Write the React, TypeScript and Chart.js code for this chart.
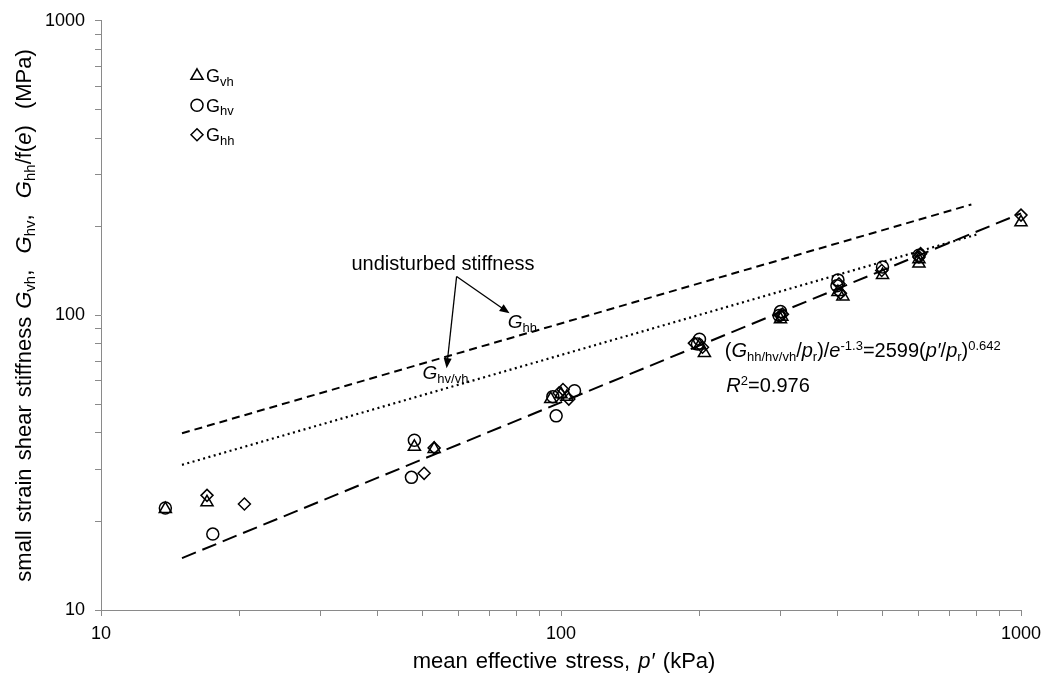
import React, { useEffect, useRef } from "react";
import { Chart, registerables } from "chart.js";

Chart.register(...registerables);

// ---- data ----
const majorTicks = [10, 100, 1000];
const minorTicks = [10, 20, 30, 40, 50, 60, 70, 80, 90, 100, 200, 300, 400, 500, 600, 700, 800, 900, 1000];

const gvhP = [13.8, 17, 48, 53, 95, 100, 103, 200, 205, 300, 302, 400, 410, 500, 600, 600, 1000];
const gvhG = [22.0, 23.2, 35.8, 35.2, 52, 54, 53, 79, 74.5, 97, 99, 120, 116, 137, 150, 155, 207];

const ghvP = [13.8, 17.5, 48, 47.3, 96, 97.6, 107, 200, 198, 300, 298, 400, 398, 500, 600];
const ghvG = [22.2, 18.1, 37.7, 28.2, 53, 45.6, 55.5, 83, 80, 103, 100, 132, 126, 146, 160];

const ghhP = [17, 20.5, 50.4, 53, 99, 101, 104, 195, 203, 300, 303, 402, 405, 498, 600, 605, 1000];
const ghhG = [24.5, 22.9, 29.1, 35.5, 54.5, 56, 52, 80.5, 78, 100, 101, 128, 119, 142, 158, 162, 219];

const fitP = [15, 1000];
const fitG = [15, 222];
const undistHhP = [15, 780];
const undistHhG = [39.8, 238];
const undistHvP = [15, 800];
const undistHvG = [31.1, 188];

// annotation anchors (data space)
const noteAnchor = { x: 55.4, y: 143 };
const arrowFrom = { x: 59.3, y: 135.5 };
const arrowToHh = { x: 77.3, y: 101.6 };
const arrowToHv = { x: 56.4, y: 66.2 };
const labelHh = { x: 76.6, y: 90.4 };
const labelHv = { x: 50.0, y: 60.8 };
const eqAnchor = { x: 227, y: 72.1 };
const r2Anchor = { x: 228.8, y: 54.9 };

const FONT = '"Liberation Sans", Arial, sans-serif';
const AXIS_GREY = "#8a8a8a";

type Seg = { t: string; it?: boolean; sub?: boolean; sup?: boolean };

function segFont(s: Seg, size: number, subRatio: number) {
  const sz = s.sub || s.sup ? Math.round(size * subRatio) : size;
  return `${s.it ? "italic " : ""}${sz}px ${FONT}`;
}

function drawRich(
  ctx: CanvasRenderingContext2D,
  segs: Seg[],
  x: number,
  y: number,
  size: number,
  align: "left" | "center",
  wordSpacing = 0,
  subRatio = 0.66
) {
  const c: any = ctx;
  c.wordSpacing = `${wordSpacing}px`;
  let w = 0;
  for (const s of segs) {
    ctx.font = segFont(s, size, subRatio);
    w += ctx.measureText(s.t).width;
  }
  let cx = align === "center" ? x - w / 2 : x;
  ctx.textAlign = "left";
  ctx.textBaseline = "alphabetic";
  for (const s of segs) {
    ctx.font = segFont(s, size, subRatio);
    const dy = s.sub ? size * 0.2 : s.sup ? -size * 0.38 : 0;
    ctx.fillText(s.t, cx, y + dy);
    cx += ctx.measureText(s.t).width;
  }
  c.wordSpacing = "0px";
}

function marker(ctx: CanvasRenderingContext2D, kind: string, x: number, y: number) {
  ctx.beginPath();
  if (kind === "triangle") {
    const r = 7;
    ctx.moveTo(x, y - r);
    ctx.lineTo(x + r * Math.sin((2 * Math.PI) / 3), y - r * Math.cos((2 * Math.PI) / 3));
    ctx.lineTo(x - r * Math.sin((2 * Math.PI) / 3), y - r * Math.cos((2 * Math.PI) / 3));
    ctx.closePath();
  } else if (kind === "circle") {
    ctx.arc(x, y, 6, 0, Math.PI * 2);
  } else {
    const r = 6;
    ctx.moveTo(x, y - r);
    ctx.lineTo(x + r, y);
    ctx.lineTo(x, y + r);
    ctx.lineTo(x - r, y);
    ctx.closePath();
  }
  ctx.stroke();
}

function arrow(ctx: CanvasRenderingContext2D, x1: number, y1: number, x2: number, y2: number) {
  const ang = Math.atan2(y2 - y1, x2 - x1);
  const hl = 10;
  const hw = 4;
  ctx.beginPath();
  ctx.moveTo(x1, y1);
  ctx.lineTo(x2 - Math.cos(ang) * hl * 0.8, y2 - Math.sin(ang) * hl * 0.8);
  ctx.stroke();
  ctx.beginPath();
  ctx.moveTo(x2, y2);
  ctx.lineTo(x2 - Math.cos(ang) * hl - Math.sin(ang) * hw, y2 - Math.sin(ang) * hl + Math.cos(ang) * hw);
  ctx.lineTo(x2 - Math.cos(ang) * hl + Math.sin(ang) * hw, y2 - Math.sin(ang) * hl - Math.cos(ang) * hw);
  ctx.closePath();
  ctx.fill();
}

const pts = (xs: number[], ys: number[]) => xs.map((x, i) => ({ x, y: ys[i] }));

const overlayPlugin = {
  id: "overlay",
  afterDraw(chart: any) {
    const ctx: CanvasRenderingContext2D = chart.ctx;
    const xs = chart.scales.x;
    const ys = chart.scales.y;
    const area = chart.chartArea;
    const px = (v: number) => xs.getPixelForValue(v);
    const py = (v: number) => ys.getPixelForValue(v);
    ctx.save();
    ctx.fillStyle = "#000";
    ctx.strokeStyle = "#000";

    // legend
    const legend: [string, string][] = [
      ["triangle", "vh"],
      ["circle", "hv"],
      ["diamond", "hh"],
    ];
    legend.forEach(([k, sub], i) => {
      const lx = area.left + 96;
      const ly = area.top + 55 + i * 29.5;
      ctx.lineWidth = 1.5;
      marker(ctx, k, lx, ly);
      drawRich(ctx, [{ t: "G" }, { t: sub, sub: true }], lx + 9, ly + 6.5, 18, "left", 0, 0.74);
    });

    // annotation
    drawRich(ctx, [{ t: "undisturbed stiffness" }], px(noteAnchor.x), py(noteAnchor.y), 20, "center");
    ctx.lineWidth = 1.3;
    arrow(ctx, px(arrowFrom.x), py(arrowFrom.y), px(arrowToHh.x), py(arrowToHh.y));
    arrow(ctx, px(arrowFrom.x), py(arrowFrom.y), px(arrowToHv.x), py(arrowToHv.y));
    drawRich(ctx, [{ t: "G", it: true }, { t: "hh", sub: true }], px(labelHh.x), py(labelHh.y), 19, "left");
    drawRich(ctx, [{ t: "G", it: true }, { t: "hv/vh", sub: true }], px(labelHv.x), py(labelHv.y), 19, "left");

    // equation
    drawRich(
      ctx,
      [
        { t: "(" },
        { t: "G", it: true },
        { t: "hh/hv/vh", sub: true },
        { t: "/" },
        { t: "p", it: true },
        { t: "r", sub: true },
        { t: ")/" },
        { t: "e", it: true },
        { t: "-1.3", sup: true },
        { t: "=2599(" },
        { t: "p\u2032", it: true },
        { t: "/" },
        { t: "p", it: true },
        { t: "r", sub: true },
        { t: ")" },
        { t: "0.642", sup: true },
      ],
      px(eqAnchor.x),
      py(eqAnchor.y),
      20,
      "left"
    );
    drawRich(ctx, [{ t: "R", it: true }, { t: "2", sup: true }, { t: "=0.976" }], px(r2Anchor.x), py(r2Anchor.y), 20, "left");

    // x axis title
    drawRich(
      ctx,
      [{ t: "mean effective stress, " }, { t: "p\u2032", it: true }, { t: " (kPa)" }],
      (area.left + area.right) / 2 + 3,
      668,
      22,
      "center",
      2
    );

    // y axis title
    ctx.save();
    ctx.translate(31, (area.top + area.bottom) / 2);
    ctx.rotate(-Math.PI / 2);
    drawRich(
      ctx,
      [
        { t: "small strain shear stiffness " },
        { t: "G", it: true },
        { t: "vh", sub: true },
        { t: ",  " },
        { t: "G", it: true },
        { t: "hv", sub: true },
        { t: ",  " },
        { t: "G", it: true },
        { t: "hh", sub: true },
        { t: "/f(" },
        { t: "e", it: true },
        { t: ")  (MPa)" },
      ],
      0,
      0,
      22,
      "center",
      2
    );
    ctx.restore();
    ctx.restore();
  },
};

export default function App() {
  const ref = useRef<HTMLCanvasElement | null>(null);

  useEffect(() => {
    if (!ref.current) return;
    const pointDs = (label: string, xs: number[], ys: number[], style: string, r: number) => ({
      type: "scatter" as const,
      label,
      data: pts(xs, ys),
      pointStyle: style,
      pointRadius: r,
      pointBorderColor: "#000",
      pointBackgroundColor: "rgba(0,0,0,0)",
      pointBorderWidth: 1.5,
      showLine: false,
      clip: false,
      order: 1,
    });
    const lineDs = (label: string, xs: number[], ys: number[], dash: number[], w: number) => ({
      type: "line" as const,
      label,
      data: pts(xs, ys),
      borderColor: "#000",
      borderWidth: w,
      borderDash: dash,
      pointRadius: 0,
      fill: false,
      tension: 0,
      clip: false,
      order: 2,
    });
    const tickCfg = (axis: string) => ({
      autoSkip: false,
      maxRotation: 0,
      color: "#000",
      font: { family: FONT, size: 18 },
      padding: axis === "x" ? 7 : 10,
      callback: (v: any) => (majorTicks.includes(Number(v)) ? String(v) : ""),
    });
    const chart = new Chart(ref.current, {
      type: "scatter",
      data: {
        datasets: [
          lineDs("fit", fitP, fitG, [15, 7], 2),
          lineDs("undisturbed hh", undistHhP, undistHhG, [8, 5], 2),
          lineDs("undisturbed hv/vh", undistHvP, undistHvG, [2, 3.5], 2.2),
          pointDs("Gvh", gvhP, gvhG, "triangle", 7),
          pointDs("Ghv", ghvP, ghvG, "circle", 6),
          pointDs("Ghh", ghhP, ghhG, "rectRot", 6),
        ] as any,
      },
      options: {
        animation: false,
        responsive: false,
        maintainAspectRatio: false,
        layout: { padding: { top: 18, right: 30, left: 0, bottom: 0 } },
        plugins: { legend: { display: false }, tooltip: { enabled: false } },
        scales: {
          x: {
            type: "logarithmic",
            min: 10,
            max: 1000,
            afterBuildTicks: (s: any) => {
              s.ticks = minorTicks.map((v) => ({ value: v }));
            },
            afterFit: (s: any) => {
              s.height = 72;
            },
            grid: { display: true, drawOnChartArea: false, drawTicks: true, tickLength: 6, color: AXIS_GREY },
            border: { display: true, color: AXIS_GREY, width: 1 },
            ticks: tickCfg("x"),
          },
          y: {
            type: "logarithmic",
            min: 10,
            max: 1000,
            afterBuildTicks: (s: any) => {
              s.ticks = minorTicks.map((v) => ({ value: v }));
            },
            afterFit: (s: any) => {
              s.width = 101;
            },
            grid: { display: true, drawOnChartArea: false, drawTicks: true, tickLength: 6, color: AXIS_GREY },
            border: { display: true, color: AXIS_GREY, width: 1 },
            ticks: tickCfg("y"),
          },
        },
      } as any,
      plugins: [overlayPlugin],
    });
    return () => chart.destroy();
  }, []);

  return (
    <div style={{ position: "absolute", left: 0, top: 0, width: 1051, height: 682, background: "#fff" }}>
      <canvas ref={ref} width={1051} height={682} style={{ display: "block" }} />
    </div>
  );
}
